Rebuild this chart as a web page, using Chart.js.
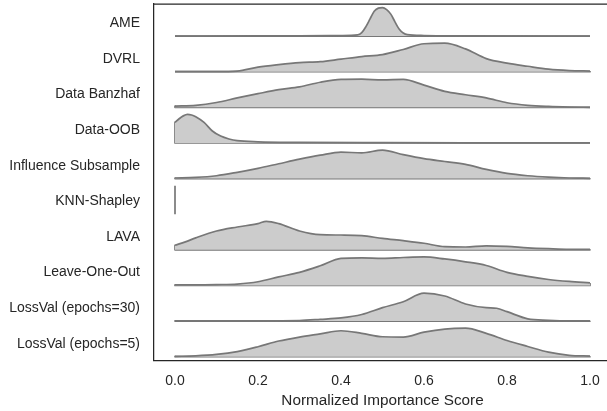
<!DOCTYPE html>
<html>
<head>
<meta charset="utf-8">
<script src="https://cdn.jsdelivr.net/npm/chart.js@4.4.0/dist/chart.umd.min.js"></script>
<style>
    html, body { margin: 0; padding: 0; background: #ffffff; overflow: hidden; }
    #wrap { width: 607px; height: 411px; overflow: hidden; }
</style>
</head>
<body>
<div id="wrap"><canvas id="ridgeChart" width="611" height="411"></canvas></div>
<script>
const methods = [
    'AME', 'DVRL', 'Data Banzhaf', 'Data-OOB', 'Influence Subsample',
    'KNN-Shapley', 'LAVA', 'Leave-One-Out', 'LossVal (epochs=30)', 'LossVal (epochs=5)'
];
const scoreTicks = [0, 0.2, 0.4, 0.6, 0.8, 1.0];

// density curves as [score, density relative to its own peak]
const ame = [[0, 0], [0.2, 0.005], [0.3, 0.01], [0.4, 0.02], [0.44, 0.04], [0.45, 0.12], [0.46, 0.33],
    [0.47, 0.6], [0.48, 0.87], [0.49, 0.98], [0.5, 1.0], [0.51, 0.93], [0.52, 0.77], [0.53, 0.5],
    [0.54, 0.25], [0.55, 0.11], [0.56, 0.05], [0.6, 0.02], [0.7, 0.01], [1.0, 0]];
const dvrl = [[0, 0], [0.1, 0], [0.15, 0.02], [0.2, 0.16], [0.25, 0.25], [0.3, 0.32], [0.35, 0.35],
    [0.4, 0.44], [0.45, 0.53], [0.5, 0.6], [0.55, 0.78], [0.6, 0.98], [0.65, 1.0], [0.7, 0.8],
    [0.75, 0.46], [0.8, 0.3], [0.85, 0.19], [0.9, 0.09], [0.95, 0.04], [1.0, 0.02]];
const banzhaf = [[0, 0.04], [0.05, 0.07], [0.1, 0.17], [0.15, 0.33], [0.2, 0.48], [0.25, 0.62], [0.3, 0.72],
    [0.35, 0.88], [0.4, 0.98], [0.45, 0.99], [0.5, 0.96], [0.55, 0.98], [0.6, 0.78], [0.65, 0.56],
    [0.7, 0.44], [0.75, 0.33], [0.8, 0.16], [0.85, 0.07], [0.9, 0.03], [0.95, 0.01], [1.0, 0]];
const dataOob = [[0, 0.72], [0.01, 0.85], [0.02, 0.95], [0.03, 1.0], [0.04, 0.98], [0.05, 0.92], [0.07, 0.72],
    [0.09, 0.42], [0.11, 0.24], [0.13, 0.14], [0.15, 0.08], [0.2, 0.04], [0.3, 0.02], [0.5, 0.01],
    [0.7, 0.005], [1.0, 0]];
const influence = [[0, 0.02], [0.05, 0.04], [0.1, 0.1], [0.15, 0.22], [0.2, 0.36], [0.25, 0.52], [0.3, 0.68],
    [0.35, 0.82], [0.4, 0.93], [0.45, 0.9], [0.5, 1.0], [0.55, 0.84], [0.6, 0.7], [0.65, 0.6],
    [0.7, 0.5], [0.75, 0.32], [0.8, 0.18], [0.85, 0.1], [0.9, 0.05], [0.95, 0.02], [1.0, 0.01]];
const knnShapley = [[0, 0], [0, 1.0]];
const lava = [[0, 0.16], [0.025, 0.28], [0.05, 0.42], [0.1, 0.66], [0.15, 0.8], [0.2, 0.92], [0.22, 1.0],
    [0.25, 0.92], [0.3, 0.66], [0.35, 0.53], [0.4, 0.52], [0.45, 0.5], [0.5, 0.4], [0.55, 0.32],
    [0.6, 0.23], [0.65, 0.11], [0.7, 0.1], [0.75, 0.14], [0.8, 0.12], [0.85, 0.07], [0.9, 0.04],
    [0.95, 0.02], [1.0, 0.02]];
const leaveOneOut = [[0, 0.02], [0.05, 0.02], [0.1, 0.03], [0.15, 0.05], [0.2, 0.13], [0.25, 0.3], [0.3, 0.46],
    [0.35, 0.69], [0.4, 0.95], [0.45, 0.97], [0.5, 0.95], [0.55, 0.98], [0.6, 1.0], [0.65, 0.93],
    [0.7, 0.83], [0.75, 0.7], [0.8, 0.46], [0.85, 0.32], [0.9, 0.21], [0.95, 0.14], [1.0, 0.09]];
const lossVal30 = [[0, 0.01], [0.1, 0.01], [0.2, 0.01], [0.3, 0.02], [0.35, 0.06], [0.4, 0.11], [0.45, 0.23],
    [0.5, 0.47], [0.55, 0.68], [0.6, 0.98], [0.65, 0.88], [0.7, 0.6], [0.75, 0.47], [0.775, 0.45],
    [0.8, 0.33], [0.85, 0.08], [0.9, 0.03], [0.95, 0.01], [1.0, 0.01]];
const lossVal5 = [[0, 0.01], [0.05, 0.03], [0.1, 0.08], [0.15, 0.18], [0.2, 0.35], [0.25, 0.55], [0.3, 0.69],
    [0.35, 0.8], [0.4, 0.91], [0.45, 0.82], [0.5, 0.7], [0.55, 0.69], [0.6, 0.86], [0.65, 0.97],
    [0.7, 1.0], [0.75, 0.82], [0.8, 0.57], [0.85, 0.36], [0.9, 0.16], [0.95, 0.05], [1.0, 0.02]];

const densities = [ame, dvrl, banzhaf, dataOob, influence, knnShapley, lava, leaveOneOut, lossVal30, lossVal5];

const ridgeHeight = 0.8;
const labelOffset = 0.36;
const edgeColor = '#777777';
const frameColor = '#262626';
const fontFamily = "'Liberation Sans', Arial, sans-serif";

const datasets = [];
densities.forEach((curve, i) => {
    const base = methods.length - 1 - i;
    const smooth = curve[curve.length - 1][0] > curve[0][0];
    const pts = curve.map(p => ({ x: p[0], y: base + p[1] * ridgeHeight }));
    datasets.push({
        data: pts,
        fill: { value: base },
        backgroundColor: '#cccccc',
        borderColor: edgeColor,
        borderWidth: 1.7,
        borderJoinStyle: 'round',
        pointRadius: 0,
        cubicInterpolationMode: smooth ? 'monotone' : 'default',
        tension: 0
    });
    if (smooth) {
        // closing edges of the filled shape: left side, baseline, right side
        const first = pts[0], last = pts[pts.length - 1];
        datasets.push({
            data: [first, { x: first.x, y: base }, { x: last.x, y: base }, last],
            fill: false,
            borderColor: edgeColor,
            borderWidth: 1.7,
            borderJoinStyle: 'round',
            pointRadius: 0,
            tension: 0
        });
    }
});

const topSpine = {
    id: 'topSpine',
    afterDraw(chart) {
        const { ctx, chartArea } = chart;
        ctx.save();
        ctx.strokeStyle = frameColor;
        ctx.lineWidth = 1.25;
        ctx.beginPath();
        ctx.moveTo(chartArea.left, chartArea.top);
        ctx.lineTo(chartArea.right, chartArea.top);
        ctx.stroke();
        ctx.restore();
    }
};

new Chart(document.getElementById('ridgeChart').getContext('2d'), {
    type: 'line',
    data: { datasets: datasets },
    options: {
        responsive: false,
        animation: false,
        devicePixelRatio: 1,
        layout: { padding: { top: 4, right: 0, bottom: 0, left: 0 } },
        plugins: {
            legend: { display: false },
            tooltip: { enabled: false }
        },
        scales: {
            x: {
                type: 'linear',
                min: -0.0506,
                max: 1.0506,
                grid: { display: false, drawTicks: false },
                border: { display: true, color: frameColor, width: 1.25 },
                afterBuildTicks: scale => { scale.ticks = scoreTicks.map(v => ({ value: v })); },
                afterFit: scale => {
                    scale.height = 50.3;
                    scale.paddingLeft = 0;
                    scale.paddingRight = 0;
                },
                ticks: {
                    padding: 12,
                    color: frameColor,
                    font: { family: fontFamily, size: 14 },
                    callback: v => v.toFixed(1)
                },
                title: {
                    display: true,
                    text: 'Normalized Importance Score',
                    color: frameColor,
                    font: { family: fontFamily, size: 15.3 },
                    padding: { top: 4, bottom: 1 }
                }
            },
            y: {
                type: 'linear',
                min: -0.112,
                max: 9.9,
                grid: { display: false, drawTicks: false },
                border: { display: true, color: frameColor, width: 1.25 },
                afterBuildTicks: scale => {
                    scale.ticks = methods.map((m, i) => ({ value: i + labelOffset }));
                },
                afterFit: scale => {
                    scale.width = 154;
                    scale.paddingTop = 0;
                    scale.paddingBottom = 0;
                },
                ticks: {
                    padding: 14,
                    color: frameColor,
                    font: { family: fontFamily, size: 14 },
                    callback: v => methods[methods.length - 1 - Math.round(v - labelOffset)]
                }
            }
        }
    },
    plugins: [topSpine]
});
</script>
</body>
</html>
